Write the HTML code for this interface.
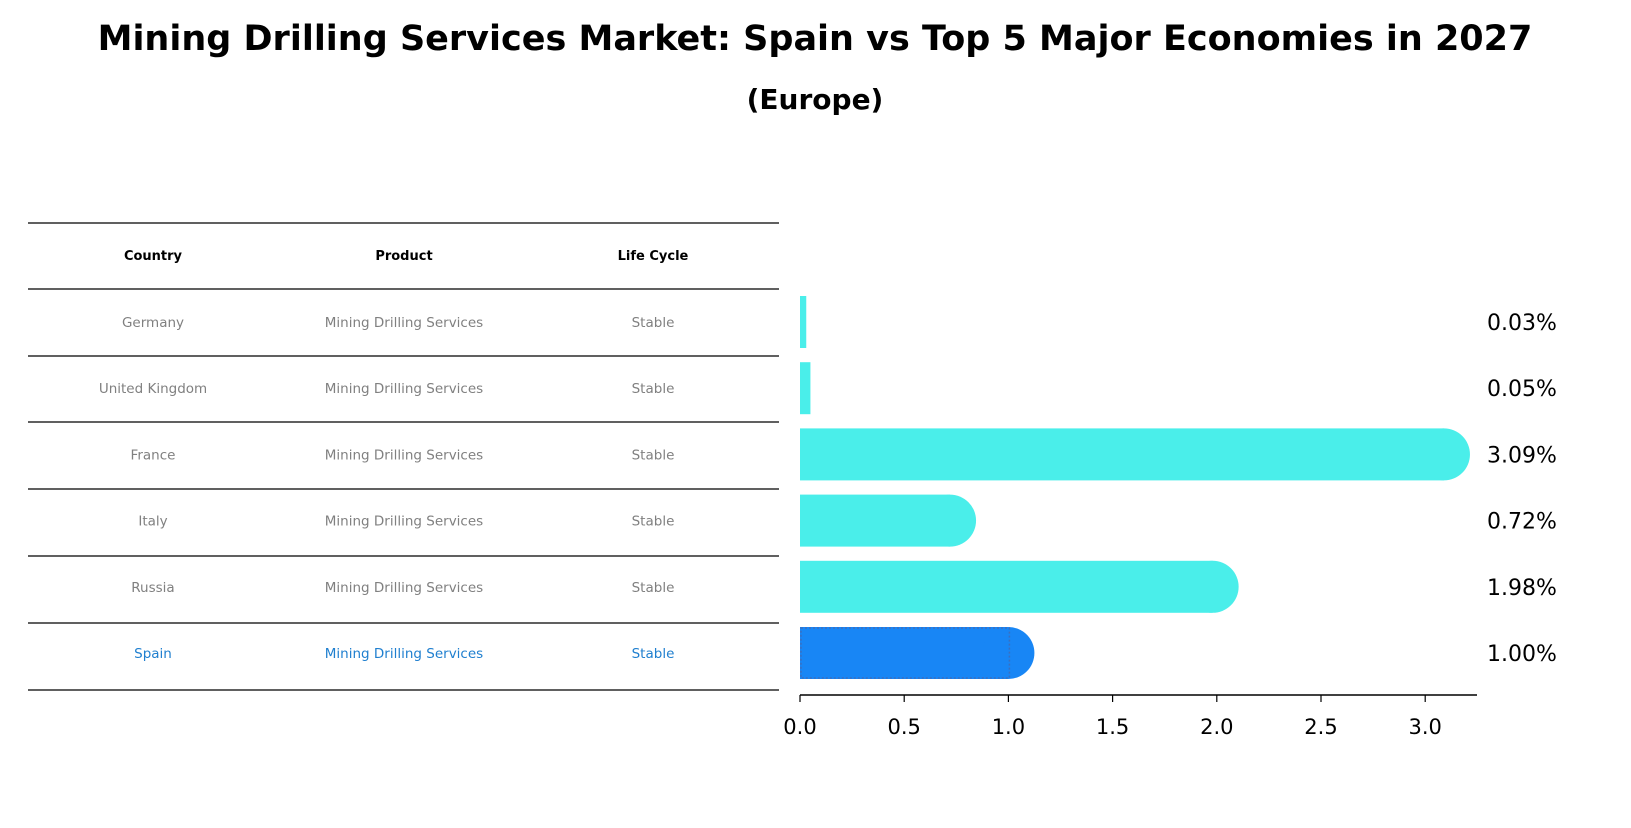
<!DOCTYPE html>
<html><head><meta charset="utf-8"><style>
body{margin:0;background:#fff;}
svg text{font-family:"DejaVu Sans","Liberation Sans",sans-serif;}
</style></head><body>
<svg id="c" width="1631" height="823" xmlns="http://www.w3.org/2000/svg">
<text x="815" y="50" text-anchor="middle" font-size="35" font-weight="bold">Mining Drilling Services Market: Spain vs Top 5 Major Economies in 2027</text>
<text x="815" y="109" text-anchor="middle" font-size="28" font-weight="bold">(Europe)</text>
<g id="table"></g>
<g id="bars"></g>
<g id="axis"></g>
</svg>
<script>
const countries=["Germany","United Kingdom","France","Italy","Russia","Spain"];
const products=["Mining Drilling Services","Mining Drilling Services","Mining Drilling Services","Mining Drilling Services","Mining Drilling Services","Mining Drilling Services"];
const cycles=["Stable","Stable","Stable","Stable","Stable","Stable"];
const values=[0.03,0.05,3.09,0.72,1.98,1.00];
const ticks=[0,0.5,1.0,1.5,2.0,2.5,3.0];
const NS="http://www.w3.org/2000/svg";
const X0=800,UNIT=208.4;
const xs=v=>X0+v*UNIT;
const rowY=i=>322+i*66.2;
function mk(tag,attrs,parent){const e=document.createElementNS(NS,tag);for(const k in attrs)e.setAttribute(k,attrs[k]);parent.appendChild(e);return e;}
const tbl=document.getElementById('table');
const lines=[223,289,356,422,489,556,623,690];
lines.forEach(y=>{const l=mk('line',{x1:28,x2:779,y1:y,y2:y,stroke:'#000','stroke-width':1.2},tbl);

});
const cx=[153,404,653];
["Country","Product","Life Cycle"].forEach((h,j)=>{const t=mk('text',{x:cx[j],y:260,'text-anchor':'middle','font-size':13,'font-weight':'bold'},tbl);t.textContent=h;

});
countries.forEach((c,i)=>{const col=i===5?'#1f7fcf':'#808080';
[c,products[i],cycles[i]].forEach((s,j)=>{const t=mk('text',{x:cx[j],y:rowY(i)+5,'text-anchor':'middle','font-size':13.5,fill:col},tbl);t.textContent=s;

});});
const bg=document.getElementById('bars');
const H=52;
values.forEach((v,i)=>{const y=rowY(i)-H/2;const w=xs(v)-X0;const spain=i===5;const col=spain?'#1886f5':'#4aeeea';
const g=mk('g',{},bg);


mk('rect',{x:X0,y:y,width:w,height:H,fill:col},g);
if(w>H/2)mk('circle',{cx:xs(v),cy:rowY(i),r:H/2,fill:col},g);
if(spain)mk('rect',{x:X0+1,y:y+1,width:w,height:H-2,fill:'none',stroke:'#3a6fc0','stroke-width':1.5,'stroke-dasharray':'2,2'},g);
const t=mk('text',{x:1487,y:rowY(i)+8,'font-size':22},bg);t.textContent=v.toFixed(2)+'%';

});
const ax=document.getElementById('axis');
mk('line',{x1:X0,x2:1477,y1:695,y2:695,stroke:'#000','stroke-width':1.5},ax);
ticks.forEach(v=>{mk('line',{x1:xs(v),x2:xs(v),y1:695,y2:702,stroke:'#000','stroke-width':1.2},ax);
const t=mk('text',{x:xs(v),y:734,'text-anchor':'middle','font-size':21},ax);t.textContent=v.toFixed(1);

});
</script>
</body></html>
